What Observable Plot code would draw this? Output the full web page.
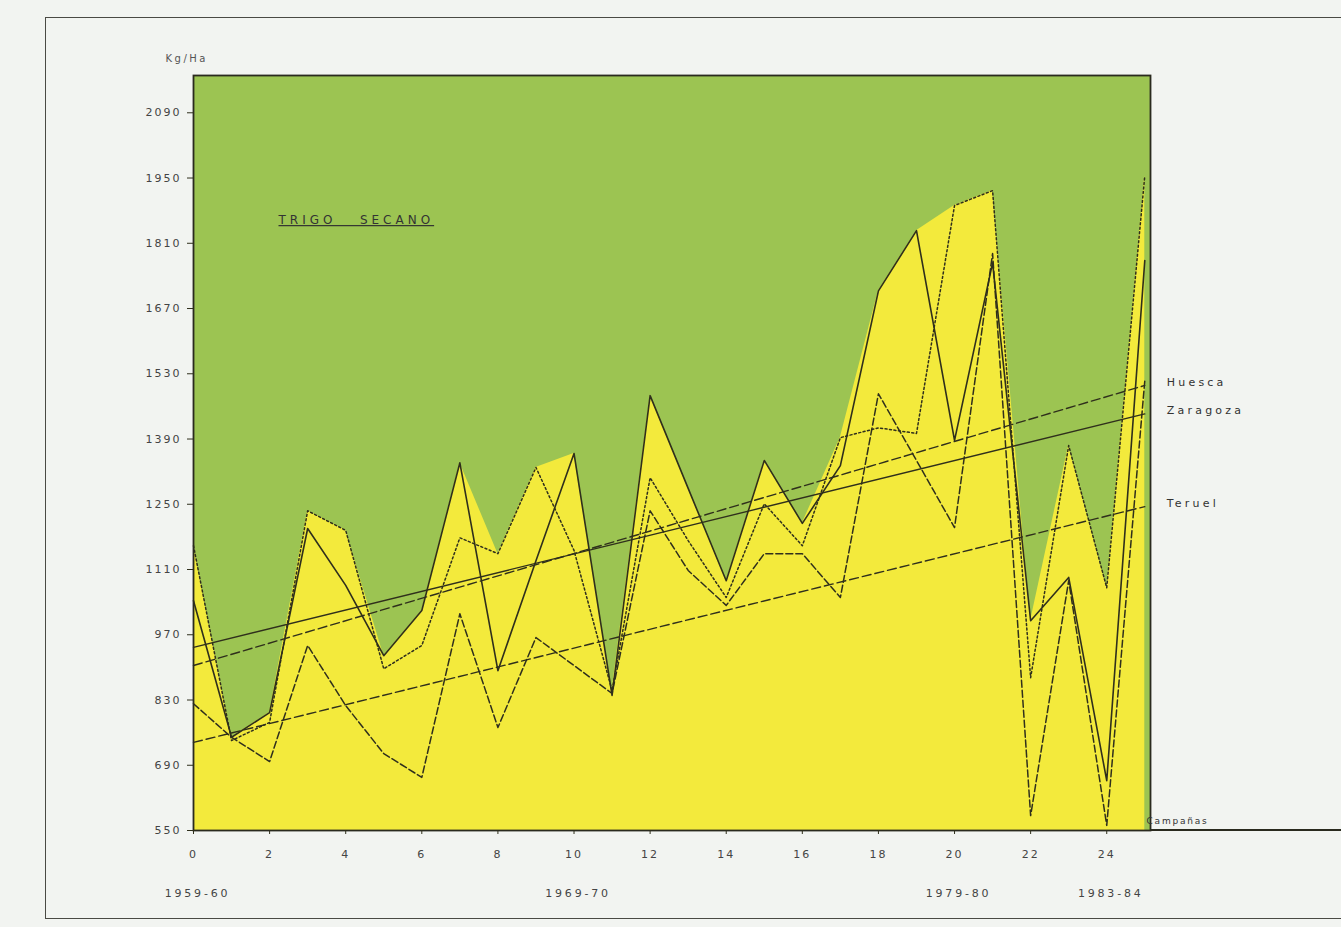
<!DOCTYPE html>
<html><head><meta charset="utf-8">
<script src="https://cdn.jsdelivr.net/npm/d3@7"></script>
<script src="https://cdn.jsdelivr.net/npm/@observablehq/plot@0.6"></script>
<style>
html,body{margin:0;padding:0;background:#f2f4f1;}
#chart{position:relative;width:1341px;height:927px;overflow:hidden;}
#border{position:absolute;left:45px;top:17px;width:1320px;height:900px;border:1.5px solid #4a4a44;pointer-events:none;}
</style></head>
<body><div id="chart"><div id="border"></div></div>
<script>
// Campaigns (0 = 1959-60 ... 25 = 1984-85)
const campaigns = [0,1,2,3,4,5,6,7,8,9,10,11,12,13,14,15,16,17,18,19,20,21,22,23,24,25];
// Yields, Kg/Ha
const huesca   = [1161,743,782,1236,1194,897,947,1178,1144,1329,1151,850,1307,1172,1050,1251,1161,1393,1414,1402,1891,1923,878,1376,1071,1955];
const zaragoza = [1043,750,803,1198,1076,925,1022,1339,893,1129,1359,840,1483,1284,1086,1344,1209,1333,1708,1837,1387,1768,1000,1093,657,1773];
const teruel   = [822,750,698,947,818,715,664,1015,771,964,904,844,1236,1108,1033,1144,1144,1050,1487,1344,1200,1788,582,1086,561,1515];
const seriesNames = ["Huesca","Zaragoza","Teruel"];
// Trend lines: value at first and last campaign
const trendStart = [904, 943, 739];
const trendEnd   = [1505, 1444, 1245];
const yTicks = [550,690,830,970,1110,1250,1390,1530,1670,1810,1950,2090];
const xTicks = [0,2,4,6,8,10,12,14,16,18,20,22,24];
const periodPos = [0,10,20,24];
const periodLabels = ["1959-60","1969-70","1979-80","1983-84"];

const seriesValues = [huesca, zaragoza, teruel];
const dashes = {Huesca: "2,2.5", Zaragoza: null, Teruel: "7,3"};
const trendDashes = {Huesca: "9,4", Zaragoza: null, Teruel: "9,4"};
const rows = [];
seriesNames.forEach((s, k) => campaigns.forEach((c, i) => rows.push({serie: s, c, v: seriesValues[k][i]})));
const envelope = campaigns.map((c, i) => ({c, v: Math.max(huesca[i], zaragoza[i], teruel[i])}));
const lastC = campaigns[campaigns.length - 1];
const trendRows = [];
seriesNames.forEach((s, k) => {
  trendRows.push({serie: s, c: campaigns[0], v: trendStart[k]});
  trendRows.push({serie: s, c: lastC, v: trendEnd[k]});
});
const labelRows = seriesNames.map((s, k) => ({serie: s, c: lastC, v: trendEnd[k]}));

const GREEN = "#9cc452", YELLOW = "#f3ea3c", INK = "#2f2f1c";
const yMin = yTicks[0];

const marks = [
  Plot.frame({fill: GREEN}),
  Plot.areaY(envelope, {x: "c", y1: () => yMin, y2: "v", fill: YELLOW}),
  ...seriesNames.map(s => Plot.line(rows.filter(d => d.serie === s), {
    x: "c", y: "v", stroke: INK, strokeWidth: s === "Zaragoza" ? 1.6 : 1.5,
    strokeDasharray: dashes[s]
  })),
  ...seriesNames.map(s => Plot.line(trendRows.filter(d => d.serie === s), {
    x: "c", y: "v", stroke: INK, strokeWidth: 1.4, strokeDasharray: trendDashes[s]
  })),
  Plot.frame({stroke: "#2a2a1e", strokeWidth: 1.8}),
  Plot.axisY({ticks: yTicks, tickFormat: d => `${d}`, tickSize: 6, tickPadding: 6, label: null, fontSize: 11, stroke: INK}),
  Plot.axisX({ticks: xTicks, tickFormat: d => `${d}`, tickSize: 4, tickPadding: 16, label: null, fontSize: 11, stroke: INK}),
  Plot.text(periodLabels, {x: (d, i) => periodPos[i], y: () => yMin, text: d => d, dx: 4, dy: 63, fontSize: 11, fill: "#444"}),
  Plot.text(labelRows, {x: "c", y: "v", text: "serie", dx: 22, dy: -3, textAnchor: "start", fontSize: 11, fill: "#333"}),
  Plot.text(["Kg/Ha"], {frameAnchor: "top-left", dx: -28, dy: -21, textAnchor: "start", fontSize: 10, fill: "#555"}),
  Plot.text(["TRIGO\u00a0\u00a0\u00a0SECANO"], {frameAnchor: "top-left", dx: 85, dy: 140, textAnchor: "start", fontSize: 12, fill: "#333"}),
  Plot.text(["Campañas"], {frameAnchor: "bottom-right", dx: -4, dy: -7, textAnchor: "start", fontSize: 9, fill: "#333"})
];

const plot = Plot.plot({
  width: 1341, height: 927,
  marginLeft: 193, marginRight: 191, marginTop: 75, marginBottom: 97,
  x: {domain: [0, 25.15]},
  y: {domain: [yMin, 2170]},
  style: {fontFamily: "DejaVu Sans, sans-serif", fontSize: "11px", color: "#444", background: "transparent", letterSpacing: "2px"},
  marks
});
document.getElementById("chart").appendChild(plot);

const svg = d3.select(plot);
const byText = (pred) => svg.selectAll("text").filter(function(){ return pred(this.textContent); });
byText(t => t.startsWith("TRIGO")).style("text-decoration", "underline").style("letter-spacing", "4px");
byText(t => seriesNames.includes(t)).style("letter-spacing", "3.2px");
byText(t => periodLabels.includes(t)).style("letter-spacing", "2.8px");
byText(t => t === "Campañas").style("letter-spacing", "1.8px");
byText(t => t === "Kg/Ha").style("letter-spacing", "2.5px");
const xs = plot.scale("x"), ys = plot.scale("y");
svg.append("line")
  .attr("x1", xs.apply(25.15)).attr("x2", 1341)
  .attr("y1", ys.apply(yMin)).attr("y2", ys.apply(yMin))
  .attr("stroke", "#2a2a1e").attr("stroke-width", 1.8);
</script>
</body></html>
